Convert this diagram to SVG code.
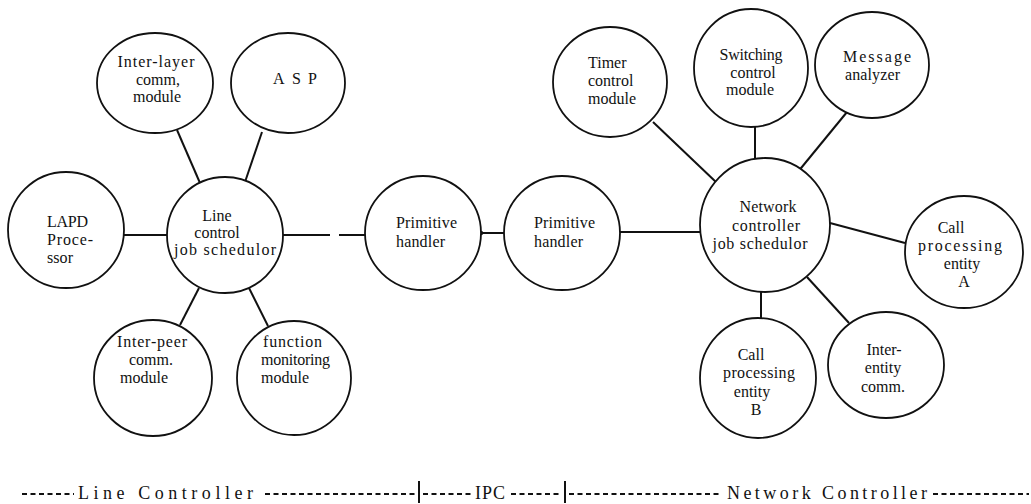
<svg xmlns="http://www.w3.org/2000/svg" width="1031" height="504" viewBox="0 0 1031 504">
<style>
.n{fill:#fff;stroke:#111;stroke-width:1.8}
.c line{stroke:#111;stroke-width:2}
text{font-family:"Liberation Serif","Times New Roman",serif;font-size:16px;fill:#111}
.m{text-anchor:middle}
.d{stroke:#111;stroke-width:1.8;stroke-dasharray:5 3.5}
.b{font-size:18px}
</style>
<rect width="1031" height="504" fill="#fff"/>
<g id="connectors" class="c">
<line x1="124" y1="235" x2="167" y2="235"/>
<line x1="177" y1="130" x2="200" y2="183"/>
<line x1="262" y1="132" x2="245" y2="182"/>
<line x1="199" y1="288" x2="180" y2="325"/>
<line x1="249" y1="288" x2="268" y2="326"/>
<line x1="283" y1="235" x2="330" y2="235"/>
<line x1="339" y1="235" x2="365" y2="235"/>
<line x1="481" y1="233" x2="504" y2="233"/>
<line x1="620" y1="232" x2="700" y2="232"/>
<line x1="653" y1="122" x2="717" y2="183"/>
<line x1="755" y1="127" x2="755" y2="158"/>
<line x1="847" y1="112" x2="797" y2="173"/>
<line x1="830" y1="223" x2="905" y2="243"/>
<line x1="761" y1="292" x2="761" y2="320"/>
<line x1="807" y1="277" x2="849" y2="323"/>
<circle cx="481" cy="233" r="2.2" fill="#111"/>
</g>
<g id="inter-layer"><ellipse class="n" cx="155" cy="83" rx="58" ry="50"/>
<text class="m" x="156" y="67" textLength="77">Inter-layer</text>
<text class="m" x="158" y="85">comm,</text>
<text class="m" x="157" y="102">module</text></g>
<g id="asp"><ellipse class="n" cx="288" cy="83" rx="57" ry="50"/>
<text class="m" x="295" y="84" textLength="44">ASP</text></g>
<g id="lapd"><ellipse class="n" cx="66" cy="230" rx="58" ry="58"/>
<text x="47" y="227" font-size="17" textLength="41">LAPD</text>
<text x="47" y="245" font-size="17" textLength="46">Proce-</text>
<text x="47" y="263" font-size="17" textLength="26">ssor</text></g>
<g id="line-control"><ellipse class="n" cx="225" cy="235" rx="58" ry="58"/>
<text class="m" x="217" y="221">Line</text>
<text class="m" x="217" y="238">control</text>
<text class="m" x="225" y="255" textLength="102">job schedulor</text></g>
<g id="inter-peer"><ellipse class="n" cx="153" cy="378" rx="59" ry="58"/>
<text class="m" x="152" y="347" textLength="70">Inter-peer</text>
<text class="m" x="151" y="365">comm.</text>
<text class="m" x="144" y="383">module</text></g>
<g id="function-monitoring"><ellipse class="n" cx="294" cy="378" rx="57" ry="57"/>
<text x="263" y="347" textLength="59">function</text>
<text x="261" y="365" textLength="69">monitoring</text>
<text x="261" y="383">module</text></g>
<g id="primitive-1"><ellipse class="n" cx="423" cy="233" rx="58" ry="57"/>
<text x="396" y="228" textLength="61">Primitive</text>
<text x="396" y="247" textLength="49">handler</text></g>
<g id="primitive-2"><ellipse class="n" cx="562" cy="233" rx="58" ry="57"/>
<text x="534" y="228" textLength="61">Primitive</text>
<text x="534" y="247" textLength="49">handler</text></g>
<g id="timer"><ellipse class="n" cx="610" cy="82" rx="57" ry="55"/>
<text x="588" y="68">Timer</text>
<text x="588" y="86">control</text>
<text x="588" y="104">module</text></g>
<g id="switching"><ellipse class="n" cx="751" cy="68" rx="57" ry="59"/>
<text class="m" x="751" y="60" textLength="63">Switching</text>
<text class="m" x="753" y="78">control</text>
<text class="m" x="750" y="95">module</text></g>
<g id="message"><ellipse class="n" cx="872" cy="65" rx="57" ry="53"/>
<text class="m" x="877" y="62" textLength="68">Message</text>
<text x="845" y="80" textLength="55">analyzer</text></g>
<g id="network"><ellipse class="n" cx="765" cy="225" rx="65" ry="67"/>
<text class="m" x="768" y="212" textLength="57">Network</text>
<text class="m" x="766" y="231" textLength="68">controller</text>
<text class="m" x="760" y="249" textLength="95">job schedulor</text></g>
<g id="call-a"><ellipse class="n" cx="964" cy="252" rx="59" ry="56"/>
<text class="m" x="951" y="233">Call</text>
<text class="m" x="960" y="251" textLength="84">processing</text>
<text class="m" x="962" y="269">entity</text>
<text class="m" x="964" y="287">A</text></g>
<g id="call-b"><ellipse class="n" cx="758" cy="378" rx="58" ry="60"/>
<text class="m" x="751" y="360">Call</text>
<text class="m" x="759" y="378" textLength="72">processing</text>
<text class="m" x="752" y="397">entity</text>
<text class="m" x="756" y="415">B</text></g>
<g id="inter-entity"><ellipse class="n" cx="886" cy="365" rx="58" ry="53"/>
<text class="m" x="884" y="355">Inter-</text>
<text class="m" x="883" y="373">entity</text>
<text class="m" x="883" y="392">comm.</text></g>
<g id="legend">
<line class="d" x1="22" y1="494" x2="74" y2="494"/>
<text class="b" x="78" y="499" textLength="175">Line Controller</text>
<line class="d" x1="265" y1="494" x2="416" y2="494"/>
<line x1="419" y1="481" x2="419" y2="503" stroke="#111" stroke-width="2"/>
<line class="d" x1="423" y1="494" x2="471" y2="494"/>
<text class="b" x="475" y="499" textLength="30">IPC</text>
<line class="d" x1="511" y1="494" x2="562" y2="494"/>
<line x1="565" y1="481" x2="565" y2="503" stroke="#111" stroke-width="2"/>
<line class="d" x1="569" y1="494" x2="720" y2="494"/>
<text class="b" x="727" y="499" textLength="200">Network Controller</text>
<line class="d" x1="933" y1="494" x2="1029" y2="494"/>
</g>
</svg>
